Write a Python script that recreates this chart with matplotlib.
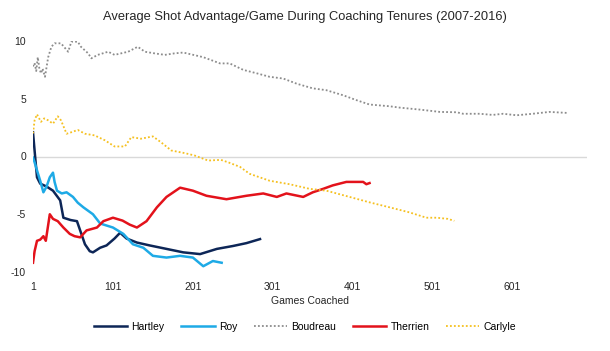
import matplotlib.pyplot as plt

plt.rcParams['font.family'] = ['Liberation Sans', 'DejaVu Sans']
plt.rcParams['axes.unicode_minus'] = False

# values (games coached, running average shot advantage)
hartley_g = [1, 3, 6, 10, 18, 26, 35, 39, 48, 56, 60, 66, 72, 76, 85, 93, 103, 110,
             118, 131, 147, 168, 189, 210, 231, 251, 268, 285]
hartley_v = [2.1, 0.5, -1.8, -2.35, -2.6, -2.96, -3.8, -5.3, -5.5, -5.6, -6.4, -7.6,
             -8.2, -8.3, -7.9, -7.7, -7.1, -6.6, -7.1, -7.45, -7.7, -8.0, -8.3, -8.45,
             -8.0, -7.75, -7.5, -7.15]

roy_g = [1, 3, 6, 10, 14, 18, 22, 26, 28, 31, 37, 43, 51, 57, 64, 70, 76, 85, 101,
         114, 126, 139, 151, 168, 185, 201, 214, 226, 237]
roy_v = [-0.1, -0.5, -1.2, -2.1, -3.1, -2.6, -1.8, -1.4, -2.2, -2.96, -3.2, -3.1,
         -3.5, -4.0, -4.4, -4.7, -5.0, -5.8, -6.15, -6.7, -7.6, -7.9, -8.6, -8.75,
         -8.6, -8.75, -9.5, -9.05, -9.2]

boudreau_g = [1, 3, 5, 7, 9, 11, 13, 16, 20, 24, 28, 36, 45, 49, 57, 61, 70, 74, 82,
              95, 103, 120, 132, 141, 153, 166, 178, 189, 214, 235, 247, 264, 281,
              297, 314, 331, 351, 368, 389, 406, 422, 447, 460, 485, 510, 531, 539,
              560, 576, 589, 606, 626, 647, 670]
boudreau_v = [7.8, 8.1, 7.4, 8.6, 7.6, 7.2, 7.6, 6.9, 8.6, 9.5, 9.8, 9.8, 9.07, 9.94,
              9.94, 9.5, 8.93, 8.5, 8.8, 9.07, 8.8, 9.07, 9.5, 9.07, 8.93, 8.8, 8.93,
              9.0, 8.6, 8.06, 8.06, 7.5, 7.2, 6.9, 6.75, 6.3, 5.9, 5.74, 5.3, 4.87,
              4.5, 4.35, 4.23, 4.06, 3.86, 3.83, 3.7, 3.7, 3.6, 3.7, 3.57, 3.7, 3.86,
              3.77]

therrien_g = [1, 3, 6, 10, 14, 17, 22, 26, 32, 39, 47, 53, 60, 68, 81, 89, 101, 113,
              122, 131, 143, 156, 168, 185, 201, 218, 243, 268, 289, 306, 318, 339,
              351, 364, 376, 393, 414, 418, 422]
therrien_v = [-9.2, -8.2, -7.3, -7.2, -6.9, -7.3, -5.0, -5.4, -5.6, -6.15, -6.7, -6.9,
              -7.0, -6.4, -6.15, -5.6, -5.3, -5.55, -5.9, -6.15, -5.6, -4.4, -3.5,
              -2.7, -2.96, -3.4, -3.7, -3.4, -3.2, -3.5, -3.2, -3.5, -3.1, -2.8, -2.5,
              -2.2, -2.2, -2.4, -2.3]

carlyle_g = [1, 3, 6, 11, 15, 20, 26, 32, 36, 43, 49, 57, 66, 78, 91, 103, 116, 124,
             136, 151, 161, 174, 191, 203, 220, 236, 245, 260, 272, 297, 322, 347,
             368, 397, 422, 447, 472, 493, 506, 520, 528]
carlyle_v = [2.0, 3.13, 3.65, 3.0, 3.3, 3.13, 2.84, 3.48, 3.13, 1.97, 2.1, 2.3, 1.97,
             1.83, 1.4, 0.87, 0.87, 1.68, 1.54, 1.74, 1.24, 0.52, 0.29, 0.09, -0.35,
             -0.29, -0.5, -0.9, -1.5, -2.1, -2.4, -2.8, -2.96, -3.5, -3.97, -4.4,
             -4.84, -5.3, -5.3, -5.4, -5.57]

x_ticks = [1, 101, 201, 301, 401, 501, 601]
y_ticks = [-10, -5, 0, 5, 10]

fig = plt.figure(figsize=(6.1, 3.51), dpi=100)
ax = fig.add_axes([33 / 610, 1 - 272 / 351, (587 - 33) / 610, (272 - 41) / 351])

ax.axhline(0, color='#d9d9d9', lw=1, zorder=0)

ax.plot(hartley_g, hartley_v, color='#0d2657', lw=1.8, label='Hartley')
ax.plot(roy_g, roy_v, color='#1eaae6', lw=1.8, label='Roy')
ax.plot(boudreau_g, boudreau_v, color='#8c8c8c', lw=1.3, ls=(0, (1, 1.2)), label='Boudreau')
ax.plot(therrien_g, therrien_v, color='#e3121b', lw=1.8, label='Therrien')
ax.plot(carlyle_g, carlyle_v, color='#f5c020', lw=1.3, ls=(0, (1, 1.2)), label='Carlyle')

ax.set_xlim(1, 694)
ax.set_ylim(-10, 10)
ax.set_xticks(x_ticks)
ax.set_xticklabels([str(t) for t in x_ticks])
ax.set_yticks(y_ticks)
ax.tick_params(length=0, labelsize=7.5, colors='#262626', pad=5)
ax.tick_params(axis='x', pad=7)
for s in ax.spines.values():
    s.set_visible(False)

ax.set_xlabel('Games Coached', fontsize=7.5, color='#262626', labelpad=3)
fig.text(0.5, 1 - 17 / 351, 'Average Shot Advantage/Game During Coaching Tenures (2007-2016)',
         ha='center', va='center', fontsize=9.3, color='#262626')

fig.legend(loc='center', bbox_to_anchor=(0.5, 1 - 327 / 351), ncol=5, frameon=False,
           fontsize=7.5, handlelength=3.2, columnspacing=1.6, handletextpad=0.4)

fig.savefig('out.png', dpi=100)
